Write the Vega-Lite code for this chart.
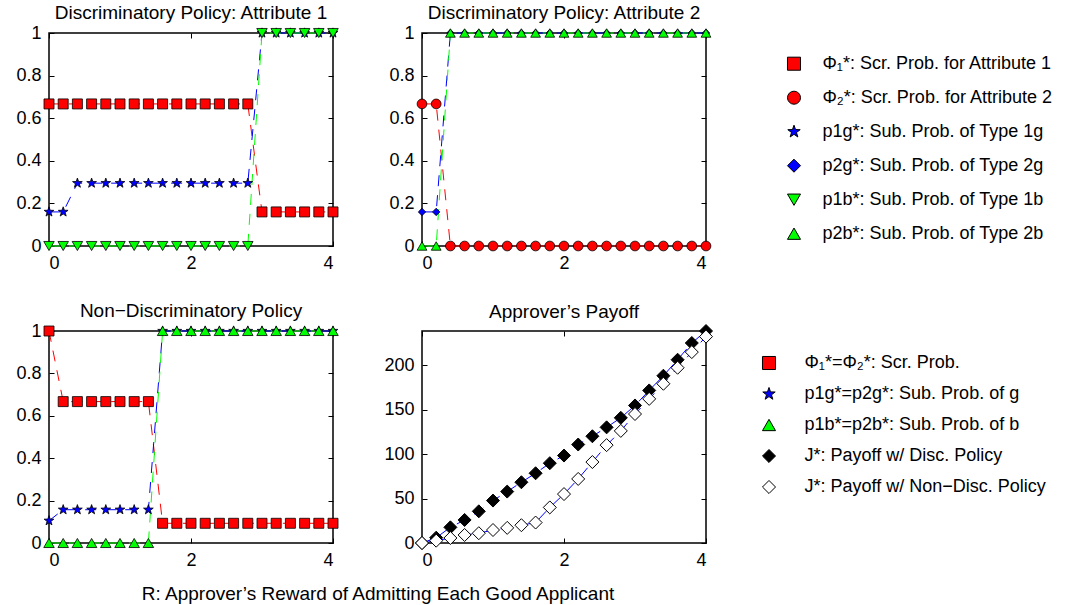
{
  "$schema": "https://vega.github.io/schema/vega-lite/v6.json",
  "background": "white",
  "autosize": {"type": "pad"},
  "padding": {"left": 15, "top": 3, "right": 0, "bottom": 0},
  "datasets": {
    "attr": [
      {"R": 0, "phi1": 0.667, "p1g": 0.16, "p1b": 0, "phi2": 0.667, "p2g": 0.16, "p2b": 0},
      {"R": 0.2, "phi1": 0.667, "p1g": 0.16, "p1b": 0, "phi2": 0.667, "p2g": 0.16, "p2b": 0},
      {"R": 0.4, "phi1": 0.667, "p1g": 0.295, "p1b": 0, "phi2": 0, "p2g": 1, "p2b": 1},
      {"R": 0.6, "phi1": 0.667, "p1g": 0.295, "p1b": 0, "phi2": 0, "p2g": 1, "p2b": 1},
      {"R": 0.8, "phi1": 0.667, "p1g": 0.295, "p1b": 0, "phi2": 0, "p2g": 1, "p2b": 1},
      {"R": 1.0, "phi1": 0.667, "p1g": 0.295, "p1b": 0, "phi2": 0, "p2g": 1, "p2b": 1},
      {"R": 1.2, "phi1": 0.667, "p1g": 0.295, "p1b": 0, "phi2": 0, "p2g": 1, "p2b": 1},
      {"R": 1.4, "phi1": 0.667, "p1g": 0.295, "p1b": 0, "phi2": 0, "p2g": 1, "p2b": 1},
      {"R": 1.6, "phi1": 0.667, "p1g": 0.295, "p1b": 0, "phi2": 0, "p2g": 1, "p2b": 1},
      {"R": 1.8, "phi1": 0.667, "p1g": 0.295, "p1b": 0, "phi2": 0, "p2g": 1, "p2b": 1},
      {"R": 2.0, "phi1": 0.667, "p1g": 0.295, "p1b": 0, "phi2": 0, "p2g": 1, "p2b": 1},
      {"R": 2.2, "phi1": 0.667, "p1g": 0.295, "p1b": 0, "phi2": 0, "p2g": 1, "p2b": 1},
      {"R": 2.4, "phi1": 0.667, "p1g": 0.295, "p1b": 0, "phi2": 0, "p2g": 1, "p2b": 1},
      {"R": 2.6, "phi1": 0.667, "p1g": 0.295, "p1b": 0, "phi2": 0, "p2g": 1, "p2b": 1},
      {"R": 2.8, "phi1": 0.667, "p1g": 0.295, "p1b": 0, "phi2": 0, "p2g": 1, "p2b": 1},
      {"R": 3.0, "phi1": 0.16, "p1g": 1, "p1b": 1, "phi2": 0, "p2g": 1, "p2b": 1},
      {"R": 3.2, "phi1": 0.16, "p1g": 1, "p1b": 1, "phi2": 0, "p2g": 1, "p2b": 1},
      {"R": 3.4, "phi1": 0.16, "p1g": 1, "p1b": 1, "phi2": 0, "p2g": 1, "p2b": 1},
      {"R": 3.6, "phi1": 0.16, "p1g": 1, "p1b": 1, "phi2": 0, "p2g": 1, "p2b": 1},
      {"R": 3.8, "phi1": 0.16, "p1g": 1, "p1b": 1, "phi2": 0, "p2g": 1, "p2b": 1},
      {"R": 4.0, "phi1": 0.16, "p1g": 1, "p1b": 1, "phi2": 0, "p2g": 1, "p2b": 1}
    ],
    "nondisc": [
      {"R": 0, "phi": 1, "pg": 0.105, "pb": 0},
      {"R": 0.2, "phi": 0.667, "pg": 0.157, "pb": 0},
      {"R": 0.4, "phi": 0.667, "pg": 0.157, "pb": 0},
      {"R": 0.6, "phi": 0.667, "pg": 0.157, "pb": 0},
      {"R": 0.8, "phi": 0.667, "pg": 0.157, "pb": 0},
      {"R": 1.0, "phi": 0.667, "pg": 0.157, "pb": 0},
      {"R": 1.2, "phi": 0.667, "pg": 0.157, "pb": 0},
      {"R": 1.4, "phi": 0.667, "pg": 0.157, "pb": 0},
      {"R": 1.6, "phi": 0.093, "pg": 1, "pb": 1},
      {"R": 1.8, "phi": 0.093, "pg": 1, "pb": 1},
      {"R": 2.0, "phi": 0.093, "pg": 1, "pb": 1},
      {"R": 2.2, "phi": 0.093, "pg": 1, "pb": 1},
      {"R": 2.4, "phi": 0.093, "pg": 1, "pb": 1},
      {"R": 2.6, "phi": 0.093, "pg": 1, "pb": 1},
      {"R": 2.8, "phi": 0.093, "pg": 1, "pb": 1},
      {"R": 3.0, "phi": 0.093, "pg": 1, "pb": 1},
      {"R": 3.2, "phi": 0.093, "pg": 1, "pb": 1},
      {"R": 3.4, "phi": 0.093, "pg": 1, "pb": 1},
      {"R": 3.6, "phi": 0.093, "pg": 1, "pb": 1},
      {"R": 3.8, "phi": 0.093, "pg": 1, "pb": 1},
      {"R": 4.0, "phi": 0.093, "pg": 1, "pb": 1}
    ],
    "payoff": [
      {"R": 0, "jd": 0, "jn": 0},
      {"R": 0.2, "jd": 6, "jn": 2.6},
      {"R": 0.4, "jd": 17.6, "jn": 5.6},
      {"R": 0.6, "jd": 25.9, "jn": 9},
      {"R": 0.8, "jd": 35.6, "jn": 11},
      {"R": 1.0, "jd": 47.7, "jn": 14.6},
      {"R": 1.2, "jd": 57.8, "jn": 17},
      {"R": 1.4, "jd": 68.3, "jn": 20},
      {"R": 1.6, "jd": 78.4, "jn": 23},
      {"R": 1.8, "jd": 89.7, "jn": 40},
      {"R": 2.0, "jd": 98.3, "jn": 55},
      {"R": 2.2, "jd": 110.7, "jn": 72},
      {"R": 2.4, "jd": 120, "jn": 91},
      {"R": 2.6, "jd": 130, "jn": 110},
      {"R": 2.8, "jd": 140.7, "jn": 126},
      {"R": 3.0, "jd": 154.6, "jn": 145},
      {"R": 3.2, "jd": 171.5, "jn": 162},
      {"R": 3.4, "jd": 188, "jn": 179},
      {"R": 3.6, "jd": 206, "jn": 197},
      {"R": 3.8, "jd": 224.8, "jn": 214.6},
      {"R": 4.0, "jd": 238.3, "jn": 232}
    ]
  },
  "columns": 2,
  "spacing": {"row": 85, "column": 89},
  "bounds": "flush",
  "resolve": {
    "scale": {"x": "independent", "y": "independent", "color": "independent", "stroke": "independent", "shape": "independent", "size": "independent"},
    "legend": {"color": "independent", "stroke": "independent", "shape": "independent", "size": "independent"}
  },
  "concat": [
    {
      "title": "Discriminatory Policy: Attribute 1",
      "width": 284,
      "height": 213,
      "data": {"name": "attr"},
      "transform": [{"fold": ["phi1", "p1g", "p1b"], "as": ["series", "value"]}],
      "layer": [
        {
          "mark": {"type": "line", "strokeWidth": 1, "strokeDash": [11, 9]},
          "encoding": {
            "x": {"field": "R", "type": "quantitative", "scale": {"domain": [0, 4], "nice": false}, "axis": {"orient": "top", "labels": false, "title": null, "values": [0, 2, 4]}},
            "y": {"field": "value", "type": "quantitative", "scale": {"domain": [0, 1], "nice": false}, "axis": {"orient": "right", "labels": false, "title": null, "values": [0, 0.2, 0.4, 0.6, 0.8, 1]}},
            "stroke": {"field": "series", "type": "nominal", "scale": {"domain": ["phi1", "p1g", "p1b"], "range": ["#ff0000", "#0000ff", "#00ff00"]}, "legend": null}
          }
        },
        {
          "mark": {"type": "point", "filled": true, "opacity": 1, "stroke": "black", "strokeWidth": 0.8},
          "encoding": {
            "x": {"field": "R", "type": "quantitative", "axis": {"values": [0, 2, 4], "format": "~r", "title": null}},
            "y": {"field": "value", "type": "quantitative", "axis": {"values": [0, 0.2, 0.4, 0.6, 0.8, 1], "format": "~r", "title": null}},
            "color": {"field": "series", "type": "nominal", "scale": {"domain": ["phi1", "p1g", "p1b"], "range": ["#ff0000", "#0000ff", "#00ff00"]}, "legend": null},
            "shape": {"field": "series", "type": "nominal", "scale": {"domain": ["phi1", "p1g", "p1b"], "range": ["square", "M0,-1L0.235,-0.324L0.951,-0.309L0.38,0.124L0.588,0.809L0,0.4L-0.588,0.809L-0.38,0.124L-0.951,-0.309L-0.235,-0.324Z", "triangle-down"]}, "legend": null},
            "size": {"field": "series", "type": "nominal", "scale": {"domain": ["phi1", "p1g", "p1b"], "range": [100, 110, 90]}, "legend": null}
          }
        }
      ],
      "resolve": {"axis": {"x": "independent", "y": "independent"}}
    },
    {
      "title": "Discriminatory Policy: Attribute 2",
      "width": 284,
      "height": 213,
      "data": {"name": "attr"},
      "transform": [{"fold": ["phi2", "p2g", "p2b"], "as": ["series", "value"]}],
      "layer": [
        {
          "mark": {"type": "line", "strokeWidth": 1, "strokeDash": [11, 9]},
          "encoding": {
            "x": {"field": "R", "type": "quantitative", "scale": {"domain": [0, 4], "nice": false}, "axis": {"orient": "top", "labels": false, "title": null, "values": [0, 2, 4]}},
            "y": {"field": "value", "type": "quantitative", "scale": {"domain": [0, 1], "nice": false}, "axis": {"orient": "right", "labels": false, "title": null, "values": [0, 0.2, 0.4, 0.6, 0.8, 1]}},
            "stroke": {"field": "series", "type": "nominal", "scale": {"domain": ["phi2", "p2g", "p2b"], "range": ["#ff0000", "#0000ff", "#00ff00"]}, "legend": null}
          }
        },
        {
          "transform": [{"filter": "datum.series == 'p2g'"}],
          "mark": {"type": "point", "filled": true, "opacity": 1, "stroke": "black", "strokeWidth": 0.8, "size": 55},
          "encoding": {
            "x": {"field": "R", "type": "quantitative", "axis": {"values": [0, 2, 4], "format": "~r", "title": null}},
            "y": {"field": "value", "type": "quantitative", "axis": {"values": [0, 0.2, 0.4, 0.6, 0.8, 1], "format": "~r", "title": null}},
            "color": {"field": "series", "type": "nominal"},
            "shape": {"field": "series", "type": "nominal"}
          }
        },
        {
          "transform": [{"filter": "datum.series != 'p2g'"}],
          "mark": {"type": "point", "filled": true, "opacity": 1, "stroke": "black", "strokeWidth": 0.8, "size": 95},
          "encoding": {
            "x": {"field": "R", "type": "quantitative", "axis": null},
            "y": {"field": "value", "type": "quantitative", "axis": null},
            "color": {
              "field": "series", "type": "nominal",
              "scale": {"domain": ["phi1", "phi2", "p1g", "p2g", "p1b", "p2b"], "range": ["#ff0000", "#ff0000", "#0000ff", "#0000ff", "#00ff00", "#00ff00"]},
              "legend": {
                "orient": "none", "legendX": 363, "legendY": 21.7, "title": null, "padding": 0,
                "symbolSize": 170, "symbolStrokeWidth": 1,
                "rowPadding": 16, "labelOffset": 19.5, "labelLimit": 0,
                "labelExpr": "datum.value == 'phi1' ? 'Φ₁*: Scr. Prob. for Attribute 1' : datum.value == 'phi2' ? 'Φ₂*: Scr. Prob. for Attribute 2' : datum.value == 'p1g' ? 'p1g*: Sub. Prob. of Type 1g' : datum.value == 'p2g' ? 'p2g*: Sub. Prob. of Type 2g' : datum.value == 'p1b' ? 'p1b*: Sub. Prob. of Type 1b' : 'p2b*: Sub. Prob. of Type 2b'"
              }
            },
            "shape": {"field": "series", "type": "nominal", "scale": {"domain": ["phi1", "phi2", "p1g", "p2g", "p1b", "p2b"], "range": ["square", "circle", "M0,-1L0.235,-0.324L0.951,-0.309L0.38,0.124L0.588,0.809L0,0.4L-0.588,0.809L-0.38,0.124L-0.951,-0.309L-0.235,-0.324Z", "diamond", "triangle-down", "triangle-up"]}}
          }
        }
      ],
      "resolve": {"axis": {"x": "independent", "y": "independent"}}
    },
    {
      "title": "Non−Discriminatory Policy",
      "width": 284,
      "height": 212,
      "data": {"name": "nondisc"},
      "transform": [{"fold": ["phi", "pg", "pb"], "as": ["series", "value"]}],
      "layer": [
        {
          "mark": {"type": "line", "strokeWidth": 1, "strokeDash": [11, 9]},
          "encoding": {
            "x": {"field": "R", "type": "quantitative", "scale": {"domain": [0, 4], "nice": false}, "axis": {"orient": "top", "labels": false, "title": null, "values": [0, 2, 4]}},
            "y": {"field": "value", "type": "quantitative", "scale": {"domain": [0, 1], "nice": false}, "axis": {"orient": "right", "labels": false, "title": null, "values": [0, 0.2, 0.4, 0.6, 0.8, 1]}},
            "stroke": {"field": "series", "type": "nominal", "scale": {"domain": ["phi", "pg", "pb"], "range": ["#ff0000", "#0000ff", "#00ff00"]}, "legend": null}
          }
        },
        {
          "mark": {"type": "point", "filled": true, "opacity": 1, "stroke": "black", "strokeWidth": 0.8},
          "encoding": {
            "x": {"field": "R", "type": "quantitative", "axis": {"values": [0, 2, 4], "format": "~r", "title": "R: Approver’s Reward of Admitting Each Good Applicant", "titleX": 328.5, "titleY": 56, "titleAlign": "center", "titleBaseline": "alphabetic", "titleAnchor": null}},
            "y": {"field": "value", "type": "quantitative", "axis": {"values": [0, 0.2, 0.4, 0.6, 0.8, 1], "format": "~r", "title": null}},
            "color": {"field": "series", "type": "nominal", "scale": {"domain": ["phi", "pg", "pb"], "range": ["#ff0000", "#0000ff", "#00ff00"]}, "legend": null},
            "shape": {"field": "series", "type": "nominal", "scale": {"domain": ["phi", "pg", "pb"], "range": ["square", "M0,-1L0.235,-0.324L0.951,-0.309L0.38,0.124L0.588,0.809L0,0.4L-0.588,0.809L-0.38,0.124L-0.951,-0.309L-0.235,-0.324Z", "triangle-up"]}, "legend": null},
            "size": {"field": "series", "type": "nominal", "scale": {"domain": ["phi", "pg", "pb"], "range": [100, 110, 90]}, "legend": null}
          }
        }
      ],
      "resolve": {"axis": {"x": "independent", "y": "independent"}}
    },
    {
      "title": "Approver’s Payoff",
      "width": 284,
      "height": 212,
      "data": {"name": "payoff"},
      "transform": [{"fold": ["jd", "jn"], "as": ["series", "value"]}],
      "layer": [
        {
          "mark": {"type": "line", "strokeWidth": 1, "strokeDash": [11, 9], "stroke": "#0000ff"},
          "encoding": {
            "x": {"field": "R", "type": "quantitative", "scale": {"domain": [0, 4], "nice": false}, "axis": {"orient": "top", "labels": false, "title": null, "values": [0, 2, 4]}},
            "y": {"field": "value", "type": "quantitative", "scale": {"domain": [0, 238.3], "nice": false}, "axis": {"orient": "right", "labels": false, "title": null, "values": [0, 50, 100, 150, 200]}},
            "detail": {"field": "series", "type": "nominal"}
          }
        },
        {
          "mark": {"type": "point", "filled": true, "opacity": 1, "stroke": "black", "strokeWidth": 1, "size": 169},
          "encoding": {
            "x": {"field": "R", "type": "quantitative", "axis": {"values": [0, 2, 4], "format": "~r", "title": null}},
            "y": {"field": "value", "type": "quantitative", "axis": {"values": [0, 50, 100, 150, 200], "format": "d", "title": null}},
            "order": {"field": "series", "type": "nominal", "sort": "ascending"},
            "color": {
              "field": "series", "type": "nominal",
              "scale": {"domain": ["phi", "pg", "pb", "jd", "jn"], "range": ["#ff0000", "#0000ff", "#00ff00", "#000000", "#ffffff"]},
              "legend": {
                "orient": "none", "legendX": 338, "legendY": 23, "title": null, "padding": 0,
                "symbolSize": 170, "symbolStrokeWidth": 1,
                "rowPadding": 13, "labelOffset": 26.5, "labelLimit": 0,
                "labelExpr": "datum.value == 'phi' ? 'Φ₁*=Φ₂*: Scr. Prob.' : datum.value == 'pg' ? 'p1g*=p2g*: Sub. Prob. of g' : datum.value == 'pb' ? 'p1b*=p2b*: Sub. Prob. of b' : datum.value == 'jd' ? 'J*: Payoff w/ Disc. Policy' : 'J*: Payoff w/ Non−Disc. Policy'"
              }
            },
            "shape": {"field": "series", "type": "nominal", "scale": {"domain": ["phi", "pg", "pb", "jd", "jn"], "range": ["square", "M0,-1L0.235,-0.324L0.951,-0.309L0.38,0.124L0.588,0.809L0,0.4L-0.588,0.809L-0.38,0.124L-0.951,-0.309L-0.235,-0.324Z", "triangle-up", "diamond", "diamond"]}}
          }
        }
      ],
      "resolve": {"axis": {"x": "independent", "y": "independent"}}
    }
  ],
  "config": {
    "font": "Liberation Sans",
    "view": {"stroke": "black", "strokeWidth": 1.5},
    "title": {"font": "Liberation Sans", "fontSize": 19, "fontWeight": "normal", "color": "black", "offset": 1},
    "axis": {
      "domain": false, "grid": false, "ticks": true, "tickSize": -5, "tickColor": "black", "tickWidth": 1,
      "labelFont": "Liberation Sans", "labelFontSize": 18, "labelColor": "black", "labelPadding": 13,
      "titleFont": "Liberation Sans", "titleFontSize": 19, "titleFontWeight": "normal", "titleColor": "black"
    },
    "legend": {"labelFont": "Liberation Sans", "labelFontSize": 18, "labelColor": "black", "labelBaseline": "middle"}
  }
}
